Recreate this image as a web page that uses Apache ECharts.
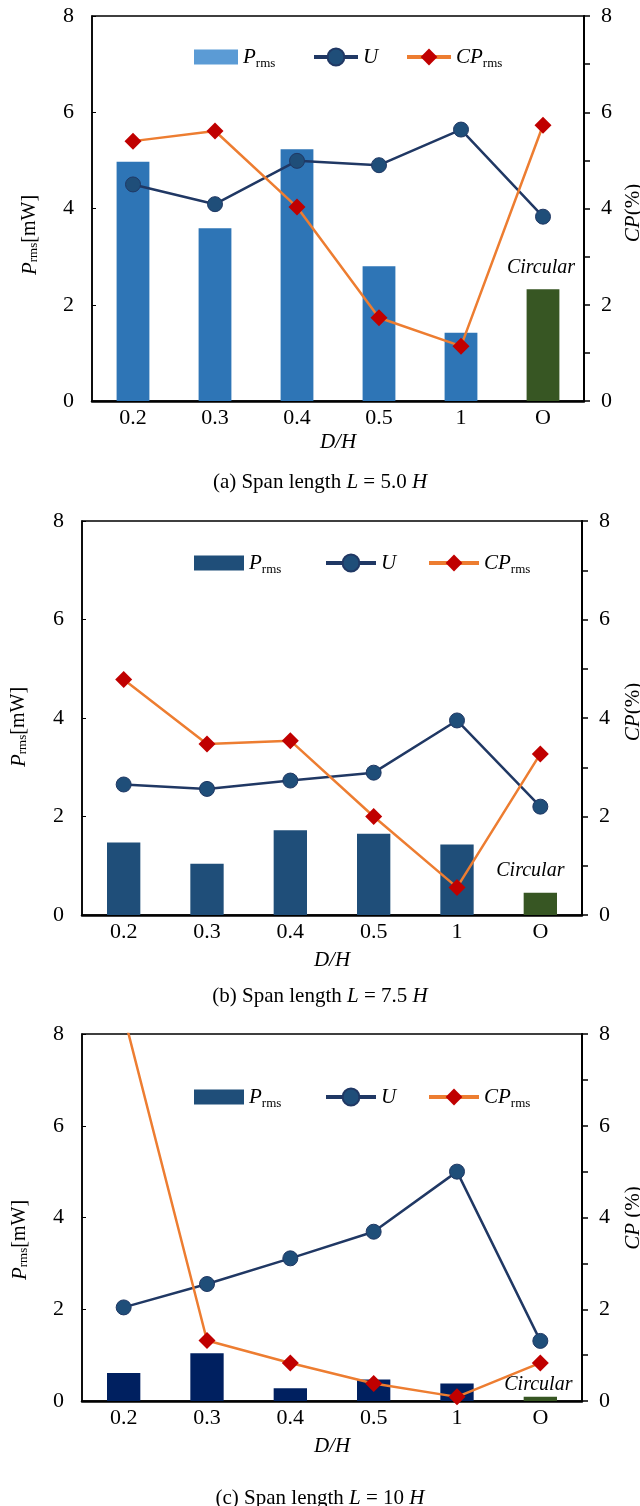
<!DOCTYPE html>
<html>
<head>
<meta charset="utf-8">
<script src="https://cdn.jsdelivr.net/npm/echarts@6/dist/echarts.min.js"></script>
<style>
  html, body { margin: 0; padding: 0; background: #fff; }
  #chart { width: 640px; height: 1506px; }
</style>
</head>
<body>
<div id="chart"></div>
<script>
// D/H categories, "O" = circular cylinder
const categories = ['0.2', '0.3', '0.4', '0.5', '1', 'O'];

// (a) span length L = 5.0 H
const prmsA = [4.97, 3.59, 5.23, 2.80, 1.42, 2.32];
const uA = [4.50, 4.09, 4.99, 4.90, 5.64, 3.83];
const cpA = [5.40, 5.61, 4.03, 1.73, 1.14, 5.73];

// (b) span length L = 7.5 H
const prmsB = [1.47, 1.04, 1.72, 1.65, 1.43, 0.45];
const uB = [2.65, 2.56, 2.73, 2.89, 3.95, 2.20];
const cpB = [4.78, 3.47, 3.54, 2.00, 0.56, 3.27];

// (c) span length L = 10 H
const prmsC = [0.61, 1.04, 0.28, 0.47, 0.38, 0.09];
const uC = [2.04, 2.55, 3.11, 3.69, 5.00, 1.31];
const cpC = [8.42, 1.32, 0.83, 0.38, 0.09, 0.83];

const spanLetters = ['a', 'b', 'c'];
const spanValues = ['5.0', '7.5', '10'];
const rightTitles = ['CP(%)', 'CP(%)', 'CP (%)'];

const FONT = '"Liberation Serif", "DejaVu Serif", serif';
const GREEN = '#375623';
const U_LINE = '#203864';
const U_DOT = '#1f4e79';
const CP_LINE = '#ed7d31';
const CP_DOT = '#c00000';

// layout of each panel
const panels = [
  { prms: prmsA, u: uA, cp: cpA, left: 92, right: 56, top: 16, height: 385,
    barColor: '#2e75b6', legendBar: '#5b9bd5', legendY: 57, legendX: [194, 312, 405], legendW: 44,
    nameGap: 31, circOffset: [-2, -8], caption: 467,
    lTitle: [30, 235], rTitle: [633, 213] },
  { prms: prmsB, u: uB, cp: cpB, left: 82, right: 58, top: 521, height: 394,
    barColor: '#1f4e79', legendBar: '#1f4e79', legendY: 563, legendX: [194, 324, 427], legendW: 50,
    nameGap: 35, circOffset: [-10, -8], caption: 981,
    lTitle: [19, 727], rTitle: [633, 712] },
  { prms: prmsC, u: uC, cp: cpC, left: 82, right: 58, top: 1034, height: 367,
    barColor: '#002060', legendBar: '#1f4e79', legendY: 1097, legendX: [194, 324, 427], legendW: 50,
    nameGap: 35, circOffset: [-2, 2], caption: 1483,
    lTitle: [20, 1240], rTitle: [633, 1218] }
];

const richText = {
  n: { fontFamily: FONT, fontSize: 20, fontWeight: 'normal', color: '#000' },
  c: { fontFamily: FONT, fontSize: 21, fontWeight: 'normal', color: '#000' },
  ci: { fontFamily: FONT, fontSize: 21, fontWeight: 'normal', fontStyle: 'italic', color: '#000' },
  i: { fontFamily: FONT, fontSize: 21, fontWeight: 'normal', fontStyle: 'italic', color: '#000' },
  s: { fontFamily: FONT, fontSize: 13, fontWeight: 'normal', color: '#000', verticalAlign: 'bottom', padding: [7, 0, 0, 0] }
};

const legendFormatter = function (name) {
  if (name === 'Prms') return '{i|P}{s|rms}';
  if (name === 'U') return '{i|U}';
  return '{i|CP}{s|rms}';
};

const grid = [], xAxis = [], yAxis = [], series = [], legend = [], title = [], graphic = [];

panels.forEach(function (p, k) {
  grid.push({
    left: p.left, right: p.right, top: p.top, height: p.height,
    show: true, borderColor: '#000', borderWidth: 1.5, backgroundColor: 'transparent'
  });

  xAxis.push({
    type: 'category', gridIndex: k, data: categories,
    axisLine: { lineStyle: { color: '#000', width: 2.5 } },
    axisTick: { show: false },
    axisLabel: { color: '#000', fontFamily: FONT, fontSize: 22, margin: 6 },
    name: 'D/H', nameLocation: 'middle', nameGap: p.nameGap,
    nameTextStyle: { color: '#000', fontFamily: FONT, fontSize: 21, fontStyle: 'italic' }
  });

  yAxis.push({
    type: 'value', gridIndex: k, min: 0, max: 8, interval: 2,
    axisLine: { show: true, lineStyle: { color: '#000', width: 1.5 } },
    axisTick: { show: true, inside: true, length: 4, lineStyle: { color: '#000' } },
    splitLine: { show: false },
    axisLabel: { color: '#000', fontFamily: FONT, fontSize: 22, margin: 18 }
  });
  yAxis.push({
    type: 'value', gridIndex: k, position: 'right', min: 0, max: 8, interval: 2,
    axisLine: { show: true, lineStyle: { color: '#000', width: 2 } },
    axisTick: { show: true, length: 6, lineStyle: { color: '#000', width: 1.5 } },
    minorTick: { show: true, splitNumber: 2, length: 6, lineStyle: { color: '#000', width: 1.5 } },
    splitLine: { show: false },
    axisLabel: { color: '#000', fontFamily: FONT, fontSize: 22, margin: 17 }
  });

  series.push({
    name: 'Prms', type: 'bar', xAxisIndex: k, yAxisIndex: 2 * k,
    barWidth: '40%', itemStyle: { color: p.barColor },
    data: p.prms.map(function (v, i) {
      if (categories[i] !== 'O') return v;
      return {
        value: v, itemStyle: { color: GREEN },
        label: {
          show: true, position: 'top', distance: 4, offset: p.circOffset,
          formatter: 'Circular', color: '#000', fontFamily: FONT, fontSize: 20, fontStyle: 'italic'
        }
      };
    }),
    z: 1
  });
  series.push({
    name: 'U', type: 'line', xAxisIndex: k, yAxisIndex: 2 * k,
    data: p.u, symbol: 'circle', symbolSize: 15,
    lineStyle: { color: U_LINE, width: 2.5 },
    itemStyle: { color: U_DOT, borderColor: U_LINE, borderWidth: 1 },
    z: 3
  });
  series.push({
    name: 'CPrms', type: 'line', xAxisIndex: k, yAxisIndex: 2 * k + 1,
    data: p.cp, symbol: 'diamond', symbolSize: [17, 17],
    lineStyle: { color: CP_LINE, width: 2.5 },
    itemStyle: { color: CP_DOT },
    clip: true, z: 4
  });

  // one legend per entry so the icon heights can differ
  const legendItems = [
    { name: 'Prms', icon: 'rect', itemStyle: { color: p.legendBar }, h: 15 },
    { name: 'U', lineStyle: { width: 4 }, h: 21 },
    { name: 'CPrms', lineStyle: { width: 4 }, h: 21 }
  ];
  legendItems.forEach(function (it, j) {
    const d = { name: it.name };
    if (it.icon) d.icon = it.icon;
    if (it.itemStyle) d.itemStyle = it.itemStyle;
    if (it.lineStyle) d.lineStyle = it.lineStyle;
    legend.push({
      left: p.legendX[j], top: p.legendY - 13, height: 26,
      itemWidth: p.legendW, itemHeight: it.h, itemGap: 0, padding: 0,
      selectedMode: false, data: [d],
      formatter: legendFormatter,
      textStyle: { fontFamily: FONT, fontSize: 20, color: '#000', lineHeight: 26, rich: richText }
    });
  });

  title.push({
    text: '{c|(' + spanLetters[k] + ') Span length }{ci|L}{c| = ' + spanValues[k] + ' }{ci|H}',
    left: 'center', top: p.caption,
    textStyle: { fontWeight: 'normal', rich: richText }
  });

  graphic.push({
    type: 'text', x: p.lTitle[0], y: p.lTitle[1], rotation: Math.PI / 2,
    style: {
      text: '{i|P}{s|rms}{n|[mW]}', rich: richText,
      align: 'center', verticalAlign: 'middle', textAlign: 'center', textVerticalAlign: 'middle'
    }
  });
  const rt = rightTitles[k];
  graphic.push({
    type: 'text', x: p.rTitle[0], y: p.rTitle[1], rotation: Math.PI / 2,
    style: {
      text: '{i|CP}{c|' + rt.slice(2) + '}', rich: richText,
      align: 'center', verticalAlign: 'middle', textAlign: 'center', textVerticalAlign: 'middle'
    }
  });
});

const chart = echarts.init(document.getElementById('chart'));
chart.setOption({
  animation: false,
  backgroundColor: '#fff',
  grid: grid,
  xAxis: xAxis,
  yAxis: yAxis,
  legend: legend,
  title: title,
  graphic: graphic,
  series: series
});
</script>
</body>
</html>
